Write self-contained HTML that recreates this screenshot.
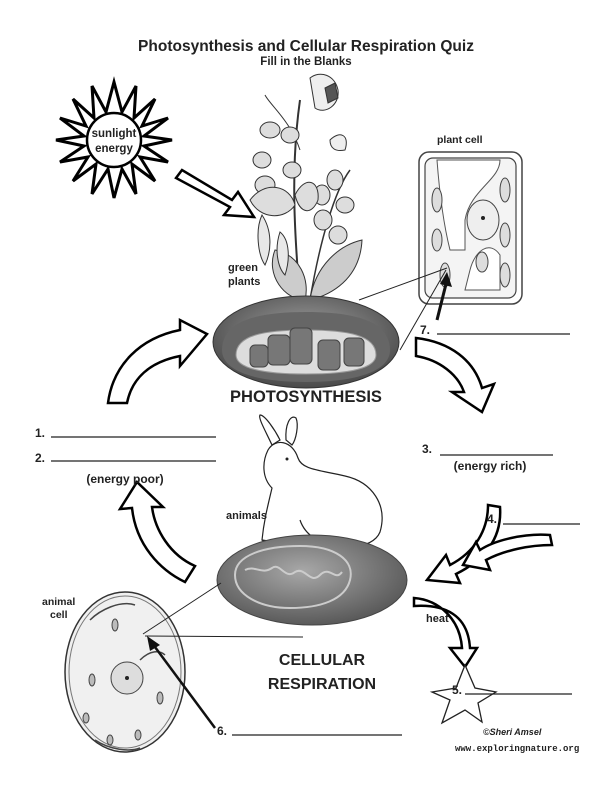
<!DOCTYPE html>
<html><head><style>
html,body{margin:0;padding:0;background:#fff}
svg{display:block}
text{font-family:"Liberation Sans",Arial,sans-serif;font-weight:bold;fill:#222}
</style></head><body>
<svg width="612" height="792" viewBox="0 0 612 792" xmlns="http://www.w3.org/2000/svg">
<defs>
<radialGradient id="g1" cx="50%" cy="40%" r="60%"><stop offset="0" stop-color="#a0a0a0"/><stop offset="1" stop-color="#4a4a4a"/></radialGradient>
<radialGradient id="g2" cx="45%" cy="40%" r="60%"><stop offset="0" stop-color="#a8a8a8"/><stop offset="1" stop-color="#5a5a5a"/></radialGradient>
</defs>
<text x="306" y="51" font-size="15.5" text-anchor="middle">Photosynthesis and Cellular Respiration Quiz</text>
<text x="306" y="65" font-size="11.5" text-anchor="middle">Fill in the Blanks</text>

<!-- sun -->
<g transform="translate(114,140)">
<polygon fill="#fff" stroke="#000" stroke-width="3" stroke-linejoin="miter" points="
0,-58 8,-28 22,-54 20,-22 41,-41 28,-14 54,-22 30,-4 58,0 30,6 54,22 26,17 41,41 18,24 22,54 8,29 0,58 -6,29 -22,54 -18,24 -41,41 -26,17 -54,22 -30,6 -58,0 -30,-4 -54,-22 -28,-14 -41,-41 -20,-22 -22,-54 -8,-28"/>
<circle r="27" fill="#fff" stroke="#000" stroke-width="2.5"/>
<text y="-3" font-size="11.5" text-anchor="middle">sunlight</text>
<text y="12" font-size="11.5" text-anchor="middle">energy</text>
</g>
<polygon points="176,178 182,170 232,200 238,192 254,217 224,215 230,207" fill="#fff" stroke="#000" stroke-width="2.5" stroke-linejoin="miter"/>

<!-- plant (approx) -->
<g stroke="#333" stroke-width="1" fill="#ddd">
<path d="M300,300 C295,240 290,170 300,100" fill="none" stroke-width="2"/>
<path d="M310,300 C320,240 335,190 350,170" fill="none" stroke-width="1.5"/>
<path d="M300,150 C290,120 270,105 265,95" fill="none"/>
<path d="M310,78 C320,70 335,75 338,90 C340,105 325,115 315,108 Z" fill="#eee"/>
<path d="M325,88 l10,-5 l3,15 l-10,5 Z" fill="#555"/>
<ellipse cx="270" cy="130" rx="10" ry="8"/><ellipse cx="262" cy="160" rx="9" ry="8"/>
<ellipse cx="290" cy="135" rx="9" ry="8"/><ellipse cx="265" cy="185" rx="10" ry="9"/>
<ellipse cx="292" cy="170" rx="9" ry="8"/><ellipse cx="335" cy="180" rx="8" ry="10"/>
<ellipse cx="322" cy="195" rx="8" ry="10"/><ellipse cx="345" cy="205" rx="9" ry="8"/>
<ellipse cx="323" cy="220" rx="9" ry="10"/><ellipse cx="338" cy="235" rx="9" ry="9"/>
<path d="M250,200 C265,180 290,185 295,205 C285,220 260,220 250,200 Z"/>
<path d="M295,195 C305,175 320,180 318,200 C312,215 300,215 295,195 Z"/>
<path d="M330,140 C340,130 350,135 345,150 C335,152 330,148 330,140 Z" fill="#eee"/>
<path d="M275,250 C265,275 285,300 305,300 C310,280 300,255 275,250 Z" fill="#ccc"/>
<path d="M310,300 C330,295 360,280 362,240 C340,245 315,265 310,300 Z" fill="#ccc"/>
<path d="M262,215 C255,230 258,255 265,265 C272,250 272,230 262,215 Z" fill="#e8e8e8"/>
<path d="M280,232 C274,250 278,268 285,275 C290,260 290,240 280,232 Z" fill="#e8e8e8"/>
</g>
<text x="228" y="271" font-size="11">green</text>
<text x="228" y="285" font-size="11">plants</text>

<!-- plant cell -->
<rect x="419" y="152" width="103" height="152" rx="10" fill="#fff" stroke="#444" stroke-width="1.5"/>
<rect x="425" y="158" width="91" height="140" rx="8" fill="#f4f4f4" stroke="#444" stroke-width="1.2"/>
<path d="M437,160 L500,160 C500,180 470,190 465,220 L465,250 L450,250 C445,230 440,200 437,160 Z" fill="#fff" stroke="#555"/>
<path d="M470,270 C475,250 490,240 500,255 L500,290 L465,290 Z" fill="#fff" stroke="#555"/>
<ellipse cx="483" cy="220" rx="16" ry="20" fill="#eee" stroke="#444"/>
<circle cx="483" cy="218" r="2" fill="#222"/>
<g fill="#ddd" stroke="#444"><ellipse cx="437" cy="200" rx="5" ry="12"/><ellipse cx="505" cy="190" rx="5" ry="12"/><ellipse cx="505" cy="235" rx="5" ry="12"/><ellipse cx="445" cy="275" rx="5" ry="12"/><ellipse cx="437" cy="240" rx="5" ry="11"/><ellipse cx="505" cy="275" rx="5" ry="12"/><ellipse cx="482" cy="262" rx="6" ry="10"/></g>
<text x="437" y="143" font-size="10.5">plant cell</text>
<line x1="359" y1="300" x2="447" y2="268" stroke="#222" stroke-width="1"/>
<line x1="400" y1="350" x2="446" y2="270" stroke="#222" stroke-width="1"/>
<line x1="437" y1="320" x2="447" y2="280" stroke="#111" stroke-width="3"/>
<polygon points="447,272 452,287 440,284" fill="#111"/>

<!-- chloroplast -->
<ellipse cx="306" cy="342" rx="93" ry="46" fill="url(#g1)" stroke="#333"/>
<path d="M222,350 C222,320 260,312 306,312 C352,312 390,320 390,350 C390,370 360,382 306,382 C252,382 222,370 222,350 Z" fill="#666"/>
<path d="M236,355 C236,335 265,330 306,330 C347,330 376,335 376,355 C376,368 350,374 306,374 C262,374 236,368 236,355 Z" fill="#ddd" stroke="#999"/>
<g fill="#777" stroke="#444">
<rect x="268" y="335" width="22" height="30" rx="5"/><rect x="290" y="328" width="22" height="36" rx="5"/><rect x="318" y="340" width="22" height="30" rx="5"/><rect x="344" y="338" width="20" height="28" rx="5"/><rect x="250" y="345" width="18" height="22" rx="5"/>
</g>
<text x="306" y="402" font-size="16.5" text-anchor="middle">PHOTOSYNTHESIS</text>

<text x="420" y="334" font-size="12">7.</text>
<line x1="437" y1="334" x2="570" y2="334" stroke="#222" stroke-width="1.3"/>

<!-- cycle arrows -->
<g fill="#fff" stroke="#000" stroke-width="2.5" stroke-linejoin="miter">
<path d="M127,403 C132,378 150,362 180,356 L180,366 L207,334 L180,320 L180,330 C140,338 113,365 108,403 Z"/>
<path d="M416,356 C440,360 458,375 464,392 L452,392 L482,412 L494,384 L482,388 C474,360 450,342 416,338 Z"/>
<path d="M195,566 C170,555 155,530 152,507 L163,507 L137,482 L120,509 L132,508 C136,545 160,570 185,582 Z"/>
<path d="M488,505 C488,530 475,552 450,565 L446,555 L427,580 L460,583 L456,574 C488,558 502,535 500,507 Z"/>
<path d="M550,535 C525,533 495,540 480,550 L476,542 L463,565 L490,570 L486,560 C505,550 530,545 552,545 Z"/>
<path d="M414,598 C440,600 460,620 462,648 L450,648 L465,667 L477,648 L470,648 C468,615 445,604 414,606 Z"/>
</g>

<text x="35" y="437" font-size="12">1.</text>
<line x1="51" y1="437" x2="216" y2="437" stroke="#222" stroke-width="1.3"/>
<text x="35" y="462" font-size="12">2.</text>
<line x1="51" y1="461" x2="216" y2="461" stroke="#222" stroke-width="1.3"/>
<text x="125" y="483" font-size="12" text-anchor="middle">(energy poor)</text>
<text x="422" y="453" font-size="12">3.</text>
<line x1="440" y1="455" x2="553" y2="455" stroke="#222" stroke-width="1.3"/>
<text x="490" y="470" font-size="12" text-anchor="middle">(energy rich)</text>
<text x="487" y="523" font-size="12">4.</text>
<line x1="503" y1="524" x2="580" y2="524" stroke="#222" stroke-width="1.3"/>

<!-- rabbit -->
<g fill="#fff" stroke="#222" stroke-width="1.2">
<path d="M272,445 C265,430 258,418 260,415 C265,415 275,430 280,440 Z"/>
<path d="M286,440 C285,425 290,414 296,418 C299,425 296,440 292,445 Z"/>
<path d="M268,450 C262,462 262,478 272,488 C268,505 264,520 262,540 L300,546 C330,550 372,552 380,532 C388,505 372,482 345,476 C320,470 302,470 298,458 C292,440 275,438 268,450 Z"/>
<path d="M300,520 C305,535 320,545 340,546 M262,540 C275,548 290,548 300,546" fill="none"/>
</g>
<circle cx="287" cy="459" r="1.5" fill="#222"/>
<text x="226" y="519" font-size="11">animals</text>

<!-- mitochondrion -->
<ellipse cx="312" cy="580" rx="95" ry="45" fill="url(#g2)" stroke="#444"/>
<path d="M235,575 C235,555 265,546 300,546 C335,546 355,560 350,580 C345,600 320,608 290,608 C260,608 235,595 235,575 Z" fill="none" stroke="#ccc" stroke-width="2"/>
<path d="M245,570 C255,565 262,575 272,568 C280,562 285,580 295,572 C305,566 310,585 320,575 C330,565 335,582 342,572" fill="none" stroke="#ccc" stroke-width="2"/>

<!-- animal cell -->
<ellipse cx="125" cy="672" rx="60" ry="80" fill="#f0f0f0" stroke="#333" stroke-width="1.5"/>
<ellipse cx="125" cy="672" rx="56" ry="76" fill="none" stroke="#777"/>
<circle cx="127" cy="678" r="16" fill="#ddd" stroke="#444"/>
<circle cx="127" cy="678" r="2" fill="#222"/>
<g fill="#bbb" stroke="#444"><ellipse cx="115" cy="625" rx="3" ry="6"/><ellipse cx="92" cy="680" rx="3" ry="6"/><ellipse cx="160" cy="698" rx="3" ry="6"/><ellipse cx="110" cy="740" rx="3" ry="5"/><ellipse cx="138" cy="735" rx="3" ry="5"/><ellipse cx="86" cy="718" rx="3" ry="5"/></g>
<path d="M90,620 C100,610 120,600 135,605 M140,660 C150,650 160,650 165,655 M95,740 C110,750 130,752 140,748" fill="none" stroke="#444" stroke-width="1.5"/>
<text x="42" y="605" font-size="10.5">animal</text>
<text x="50" y="618" font-size="10.5">cell</text>
<line x1="143" y1="634" x2="221" y2="583" stroke="#222" stroke-width="1"/>
<line x1="145" y1="636" x2="303" y2="637" stroke="#222" stroke-width="1"/>
<line x1="215" y1="728" x2="152" y2="643" stroke="#111" stroke-width="2.5"/>
<polygon points="147,636 160,645 150,651" fill="#111"/>
<text x="322" y="665" font-size="16" text-anchor="middle">CELLULAR</text>
<text x="322" y="689" font-size="16" text-anchor="middle">RESPIRATION</text>
<text x="217" y="735" font-size="12">6.</text>
<line x1="232" y1="735" x2="402" y2="735" stroke="#222" stroke-width="1.3"/>
<text x="426" y="622" font-size="11">heat</text>
<polygon points="465,670 475,693 496,697 478,708 482,727 465,715 442,728 450,705 432,697 456,693" fill="#fff" stroke="#222" stroke-width="1.3" transform="translate(0,-5)"/>
<text x="452" y="694" font-size="12">5.</text>
<line x1="465" y1="694" x2="572" y2="694" stroke="#222" stroke-width="1.3"/>
<text x="483" y="735" font-size="9" font-weight="normal" font-style="italic">©Sheri Amsel</text>
<text x="455" y="751" font-size="9" font-weight="normal" style="font-family:'Liberation Mono',monospace" fill="#222">www.exploringnature.org</text>
</svg>
</body></html>
